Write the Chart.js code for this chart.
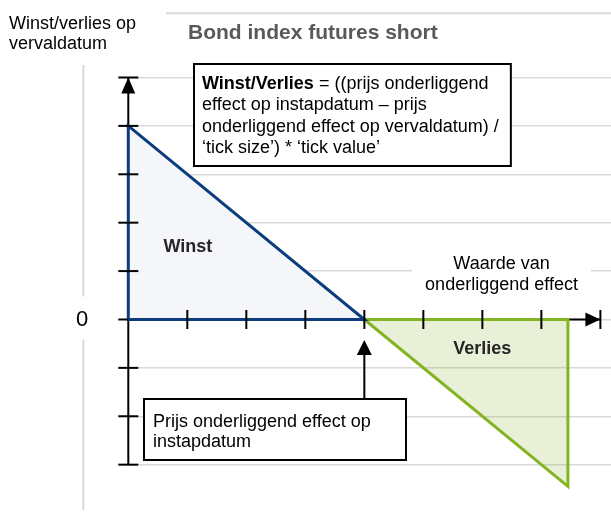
<!DOCTYPE html>
<html>
<head>
<meta charset="utf-8">
<script src="https://cdn.jsdelivr.net/npm/chart.js@4.4.1/dist/chart.umd.min.js"></script>
<style>
  html, body { margin: 0; padding: 0; background: #fff; }
</style>
</head>
<body>
<canvas id="chart" width="611" height="515"></canvas>
<script>
// Short bond index future: payoff at expiry vs. value of the underlying.
// Units are ticks on the drawn axes (break-even at x = 4).
const xTicks = [1, 2, 3, 4, 5, 6, 7];
const yTicks = [-3, -2, -1, 0, 1, 2, 3, 4, 5];
const payoffX = [0, 4, 7.45];
const payoffY = [4, 0, -3.45];
const entryPrice = 4;
const xAxisEnd = 8;
const yAxisMin = -3;
const yAxisMax = 5;

const TITLE = "Bond index futures short";
const Y_TITLE = ["Winst/verlies op", "vervaldatum"];
const X_TITLE = ["Waarde van", "onderliggend effect"];
const FORMULA = [
  [["Winst/Verlies", true], [" = ((prijs onderliggend", false]],
  [["effect op instapdatum \u2013 prijs", false]],
  [["onderliggend effect op vervaldatum) /", false]],
  [["\u2018tick size\u2019) * \u2018tick value\u2019", false]],
];
const ENTRY_NOTE = ["Prijs onderliggend effect op", "instapdatum"];
const WINST_LABEL = "Winst";
const VERLIES_LABEL = "Verlies";

const FONT = '"Liberation Sans", Arial, sans-serif';
const BLUE = "#0b3c7d";
const GREEN = "#84b324";
const GRID = "#d9d9d9";

const pt = (x, y) => ({ x, y });
const payoff = payoffX.map((x, i) => pt(x, payoffY[i]));
// closed outlines of the two triangles
const winstOutline = [pt(payoffX[0], 0), payoff[0], payoff[1], pt(payoffX[0], 0)];
const verliesOutline = [payoff[1], pt(payoffX[2], 0), payoff[2], payoff[1]];

function arrowHead(ctx, tipX, tipY, dx, dy, len, half) {
  // dx,dy = unit direction the arrow points to
  const bx = tipX - dx * len, by = tipY - dy * len;
  ctx.beginPath();
  ctx.moveTo(tipX, tipY);
  ctx.lineTo(bx - dy * half, by + dx * half);
  ctx.lineTo(bx + dy * half, by - dx * half);
  ctx.closePath();
  ctx.fill();
}

function line(ctx, x1, y1, x2, y2) {
  ctx.beginPath();
  ctx.moveTo(x1, y1);
  ctx.lineTo(x2, y2);
  ctx.stroke();
}

const decor = {
  id: "decor",
  beforeDraw(chart) {
    const ctx = chart.ctx;
    ctx.save();
    ctx.fillStyle = "#fff";
    ctx.fillRect(0, 0, chart.width, chart.height);
    // light frame lines of the original plot
    ctx.strokeStyle = GRID;
    ctx.lineWidth = 2;
    line(ctx, 83.3, 65, 83.3, 510);
    line(ctx, 166, 13.3, chart.width, 13.3);
    ctx.restore();
  },
  beforeDatasetsDraw(chart) {
    const { ctx, scales: { x, y } } = chart;
    const x0 = x.getPixelForValue(0), y0 = y.getPixelForValue(0);
    ctx.save();
    ctx.strokeStyle = "#000";
    ctx.lineWidth = 2;
    line(ctx, x0, y.getPixelForValue(yAxisMin), x0, y.getPixelForValue(yAxisMax));
    line(ctx, x0, y0, x.getPixelForValue(xAxisEnd), y0);
    ctx.restore();
  },
  afterDatasetsDraw(chart) {
    const { ctx, scales: { x, y } } = chart;
    const x0 = x.getPixelForValue(0), y0 = y.getPixelForValue(0);
    ctx.save();
    ctx.strokeStyle = "#000";
    ctx.fillStyle = "#000";
    ctx.lineWidth = 2;

    // tick marks crossing the axes
    yTicks.forEach((v) => {
      const py = y.getPixelForValue(v);
      line(ctx, x0 - 10, py, v === 0 ? x0 : x0 + 10, py);
    });
    xTicks.concat([xAxisEnd]).forEach((v) => {
      const px = x.getPixelForValue(v);
      line(ctx, px, y0 - 9.5, px, y0 + 9.5);
    });
    arrowHead(ctx, x0, y.getPixelForValue(yAxisMax), 0, -1, 16, 7);
    arrowHead(ctx, x.getPixelForValue(xAxisEnd), y0, 1, 0, 15, 7);

    // zero label with white backing over the frame line
    ctx.fillStyle = "#fff";
    ctx.fillRect(72, y0 - 23, 22, 43);
    ctx.fillStyle = "#000";
    ctx.font = "22px " + FONT;
    ctx.textAlign = "center";
    ctx.textBaseline = "middle";
    ctx.fillText("0", 82, y0);

    // area labels
    ctx.font = "bold 18px " + FONT;
    ctx.fillStyle = "#262626";
    ctx.fillText(WINST_LABEL, x.getPixelForValue(1.01), y.getPixelForValue(1.5));
    ctx.fillText(VERLIES_LABEL, x.getPixelForValue(6.0), y.getPixelForValue(-0.62));

    // x axis caption
    ctx.font = "18px " + FONT;
    ctx.fillStyle = "#fff";
    ctx.fillRect(412, 251, 179, 46);
    ctx.fillStyle = "#000";
    ctx.textBaseline = "alphabetic";
    ctx.fillText(X_TITLE[0], 501.5, 269);
    ctx.fillText(X_TITLE[1], 501.5, 290);

    // y axis caption + title
    ctx.textAlign = "left";
    ctx.fillText(Y_TITLE[0], 9, 28.5);
    ctx.fillText(Y_TITLE[1], 9, 48.5);
    ctx.font = "bold 21px " + FONT;
    ctx.fillStyle = "#595959";
    ctx.fillText(TITLE, 188, 39);

    // formula box
    ctx.fillStyle = "#000";
    let maxW = 0;
    FORMULA.forEach((parts) => {
      let w = 0;
      parts.forEach(([t, b]) => {
        ctx.font = (b ? "bold " : "") + "18px " + FONT;
        w += ctx.measureText(t).width;
      });
      maxW = Math.max(maxW, w);
    });
    const fx = 194, fy = 64, fh = 102;
    ctx.fillStyle = "#fff";
    ctx.fillRect(fx, fy, maxW + 20, fh);
    ctx.strokeRect(fx, fy, maxW + 20, fh);
    ctx.fillStyle = "#000";
    FORMULA.forEach((parts, i) => {
      let cx = fx + 8;
      parts.forEach(([t, b]) => {
        ctx.font = (b ? "bold " : "") + "18px " + FONT;
        ctx.fillText(t, cx, 88.5 + i * 21.5);
        cx += ctx.measureText(t).width;
      });
    });

    // entry price pointer + note
    const ex = x.getPixelForValue(entryPrice);
    const bx = 144, by = 399, bw = 262, bh = 61;
    line(ctx, ex, by, ex, y0 + 30);
    arrowHead(ctx, ex, y0 + 20.5, 0, -1, 15, 7.5);
    ctx.fillStyle = "#fff";
    ctx.fillRect(bx, by, bw, bh);
    ctx.strokeRect(bx, by, bw, bh);
    ctx.fillStyle = "#000";
    ctx.font = "18px " + FONT;
    ctx.fillText(ENTRY_NOTE[0], bx + 9, 426.5);
    ctx.fillText(ENTRY_NOTE[1], bx + 9, 447);
    ctx.restore();
  },
};

new Chart(document.getElementById("chart"), {
  type: "line",
  data: {
    datasets: [
      { data: winstOutline, borderColor: BLUE, borderWidth: 3, fill: false },
      { data: verliesOutline, borderColor: GREEN, borderWidth: 3, fill: false },
      { data: payoff.slice(0, 2), borderWidth: 0, fill: "origin", backgroundColor: "#f4f6fa" },
      { data: payoff.slice(1, 3), borderWidth: 0, fill: "origin", backgroundColor: "rgba(140,185,60,0.2)" },
    ],
  },
  options: {
    responsive: false,
    animation: false,
    events: [],
    layout: { padding: { left: 128.3, top: 77.5, right: 0, bottom: 21.3 } },
    elements: {
      point: { radius: 0 },
      line: { tension: 0, borderJoinStyle: "miter", borderCapStyle: "square" },
    },
    datasets: { line: { clip: false } },
    plugins: { legend: { display: false }, tooltip: { enabled: false } },
    scales: {
      x: { type: "linear", min: 0, max: 8.18, display: false },
      y: {
        type: "linear",
        min: -3.6,
        max: yAxisMax,
        ticks: { display: false },
        grid: { color: GRID, lineWidth: 1.5, drawTicks: false },
        border: { display: false },
        afterBuildTicks: (s) => { s.ticks = yTicks.map((v) => ({ value: v })); },
        afterFit: (s) => { s.width = 0; },
      },
    },
  },
  plugins: [decor],
});
</script>
</body>
</html>
